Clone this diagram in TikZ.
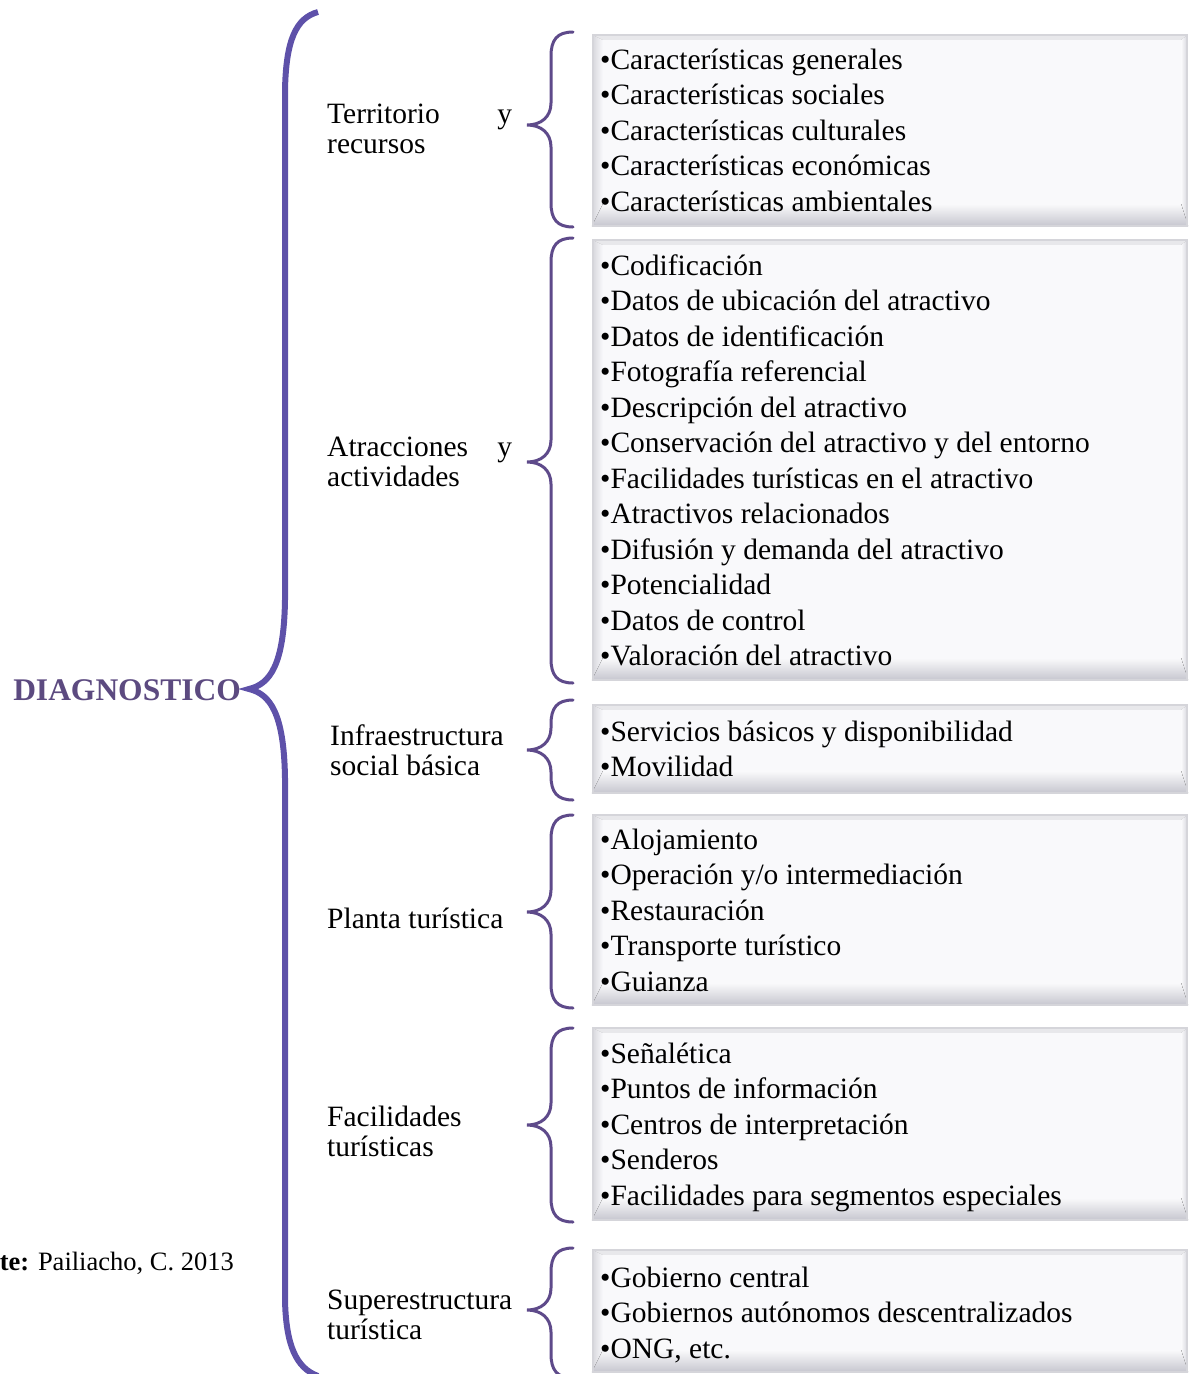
\documentclass[tikz,border=0pt]{standalone}
\usepackage{fontspec}
\setmainfont{Liberation Serif}
\definecolor{bigb}{HTML}{5E51A9}
\definecolor{smb}{HTML}{5E4A8A}
\definecolor{diag}{HTML}{5C4A80}
\definecolor{boxfill}{HTML}{F9F9FB}
\definecolor{boxline}{HTML}{D5D5DA}
\definecolor{bevdark}{HTML}{C6C6CE}
\definecolor{bevside}{HTML}{D8D8DE}
\newcommand\rows[1]{\begin{tabular}[t]{@{}l@{}}#1\end{tabular}}
\newcommand\bevbox[3]{%
  \node[boxsh, minimum height={#3-#2}] (#1) at (890,{(#2+#3)/2}) {};
  \fill[left color=bevside, right color=boxfill] (#1.south west) -- (#1.north west) -- ([shift={(10,5)}]#1.north west) -- ([shift={(10,-22)}]#1.south west) -- cycle;
  \fill[left color=boxfill, right color=bevside] (#1.south east) -- (#1.north east) -- ([shift={(-6,5)}]#1.north east) -- ([shift={(-6,-22)}]#1.south east) -- cycle;
  \fill[bevside!60!white] (#1.north west) -- (#1.north east) -- ([shift={(-6,5)}]#1.north east) -- ([shift={(10,5)}]#1.north west) -- cycle;
  \fill[top color=boxfill, bottom color=bevdark] ([shift={(-1,0)}]#1.south west) -- ([shift={(1,0)}]#1.south east) -- ([shift={(-6,-22)}]#1.south east) -- ([shift={(10,-22)}]#1.south west) -- cycle;
  \draw[boxline, line width=2pt] (#1.south west) rectangle (#1.north east);
}
\newcommand\sbrace[3]{%
  \draw[smbrace] (573,#1) .. controls (557,#1) and (551,{#1+8}) .. (551,{#1+24}) -- (551,{#2-22}) .. controls (551,{#2-8}) and (541,#2) .. (527,#2) .. controls (541,#2) and (551,{#2+8}) .. (551,{#2+22}) -- (551,{#3-24}) .. controls (551,{#3-8}) and (557,#3) .. (573,#3);
}
\tikzset{
  boxsh/.style={rectangle, draw=none, fill=boxfill, minimum width=594pt, inner sep=0pt},
  smbrace/.style={draw=smb, line width=3pt, line cap=round},
  bigbrace/.style={draw=bigb, line width=6pt},
  itemtxt/.style={anchor=base west, inner sep=0pt, font=\fontsize{29.5}{35.5}\selectfont},
  labtxt/.style={anchor=base west, inner sep=0pt, font=\fontsize{29.5}{30}\selectfont},
}
\begin{document}
\begin{tikzpicture}[x=1pt, y=-1pt]
\useasboundingbox (0,0) rectangle (1192,1374);
% big brace
\draw[bigbrace] (318,12) .. controls (296,18) and (286,40) .. (285,90) -- (285,600) .. controls (284,665) and (270,684) .. (249,689) .. controls (270,694) and (284,713) .. (285,778) -- (285,1300) .. controls (286,1345) and (296,1368) .. (318,1376);
\node[anchor=base east, inner sep=0pt, text=diag, font=\bfseries\fontsize{31.5}{36}\selectfont] (diag) at (241,700) {DIAGNOSTICO};
\node[anchor=base east, inner sep=0pt, font=\fontsize{26.5}{30}\selectfont] (fuente) at (234,1270) {\textbf{Fuente:} Pailiacho, C. 2013};
% boxes
\bevbox{b1}{35}{226}
\bevbox{b2}{240}{680}
\bevbox{b3}{705}{793}
\bevbox{b4}{815}{1005}
\bevbox{b5}{1028}{1220}
\bevbox{b6}{1250}{1372}
% small braces
\sbrace{32}{125}{227}
\sbrace{238}{462}{683}
\sbrace{700}{750}{800}
\sbrace{815}{912}{1008}
\sbrace{1028}{1125}{1222}
\sbrace{1248}{1310}{1378}
% labels
\node[labtxt] (l1) at (327,123) {\rows{\makebox[185pt][l]{Territorio\hfill y}\\recursos}};
\node[labtxt] (l2) at (327,456) {\rows{\makebox[185pt][l]{Atracciones\hfill y}\\actividades}};
\node[labtxt] (l3) at (330,745) {\rows{Infraestructura\\social básica}};
\node[labtxt] (l4) at (327,928) {\rows{Planta turística}};
\node[labtxt] (l5) at (327,1126) {\rows{Facilidades\\turísticas}};
\node[labtxt] (l6) at (327,1309) {\rows{Superestructura\\turística}};
% items
\node[itemtxt] (t1) at (600,69) {\rows{•Características generales\\•Características sociales\\•Características culturales\\•Características económicas\\•Características ambientales}};
\node[itemtxt] (t2) at (600,275) {\rows{•Codificación\\•Datos de ubicación del atractivo\\•Datos de identificación\\•Fotografía referencial\\•Descripción del atractivo\\•Conservación del atractivo y del entorno\\•Facilidades turísticas en el atractivo\\•Atractivos relacionados\\•Difusión y demanda del atractivo\\•Potencialidad\\•Datos de control\\•Valoración del atractivo}};
\node[itemtxt] (t3) at (600,741) {\rows{•Servicios básicos y disponibilidad\\•Movilidad}};
\node[itemtxt] (t4) at (600,849) {\rows{•Alojamiento\\•Operación y/o intermediación\\•Restauración\\•Transporte turístico\\•Guianza}};
\node[itemtxt] (t5) at (600,1063) {\rows{•Señalética\\•Puntos de información\\•Centros de interpretación\\•Senderos\\•Facilidades para segmentos especiales}};
\node[itemtxt] (t6) at (600,1287) {\rows{•Gobierno central\\•Gobiernos autónomos descentralizados\\•ONG, etc.}};
\end{tikzpicture}
\end{document}
